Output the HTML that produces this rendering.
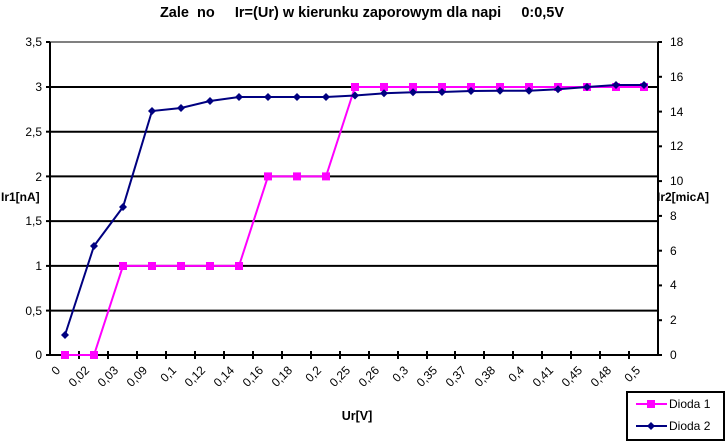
<!DOCTYPE html>
<html><head><meta charset="utf-8"><style>
html,body{margin:0;padding:0;background:#fff;}
svg{display:block;font-family:"Liberation Sans",Arial,sans-serif;}
</style></head><body>
<svg width="725" height="442" viewBox="0 0 725 442" xmlns="http://www.w3.org/2000/svg">
<rect width="725" height="442" fill="#fff"/>
<text x="362" y="17" font-size="14.5" font-weight="bold" text-anchor="middle" xml:space="preserve">Zale  no     Ir=(Ur) w kierunku zaporowym dla napi     0:0,5V</text>
<g stroke="#000" stroke-width="2">
<line x1="50" y1="87" x2="658" y2="87"/>
<line x1="50" y1="131.7" x2="658" y2="131.7"/>
<line x1="50" y1="176.4" x2="658" y2="176.4"/>
<line x1="50" y1="221.1" x2="658" y2="221.1"/>
<line x1="50" y1="265.9" x2="658" y2="265.9"/>
<line x1="50" y1="310.6" x2="658" y2="310.6"/>
</g>
<line x1="50" y1="42" x2="658" y2="42" stroke="#808080" stroke-width="2"/>
<g stroke="#000" stroke-width="2">
<line x1="50" y1="42" x2="50" y2="355"/>
<line x1="658" y1="42" x2="658" y2="355"/>
<line x1="46" y1="355" x2="662" y2="355"/>
</g>
<g stroke="#000" stroke-width="2">
<line x1="46" y1="42" x2="50" y2="42"/><line x1="46" y1="87" x2="50" y2="87"/><line x1="46" y1="131.7" x2="50" y2="131.7"/><line x1="46" y1="176.4" x2="50" y2="176.4"/><line x1="46" y1="221.1" x2="50" y2="221.1"/><line x1="46" y1="265.9" x2="50" y2="265.9"/><line x1="46" y1="310.6" x2="50" y2="310.6"/>
<line x1="658" y1="42" x2="662" y2="42"/><line x1="658" y1="76.8" x2="662" y2="76.8"/><line x1="658" y1="111.6" x2="662" y2="111.6"/><line x1="658" y1="146.3" x2="662" y2="146.3"/><line x1="658" y1="181.1" x2="662" y2="181.1"/><line x1="658" y1="215.9" x2="662" y2="215.9"/><line x1="658" y1="250.7" x2="662" y2="250.7"/><line x1="658" y1="285.4" x2="662" y2="285.4"/><line x1="658" y1="320.2" x2="662" y2="320.2"/>
</g>
<g stroke="#000" stroke-width="2">
<line x1="79" y1="351" x2="79" y2="359"/><line x1="108" y1="351" x2="108" y2="359"/><line x1="137" y1="351" x2="137" y2="359"/><line x1="166" y1="351" x2="166" y2="359"/><line x1="195" y1="351" x2="195" y2="359"/><line x1="224" y1="351" x2="224" y2="359"/><line x1="253" y1="351" x2="253" y2="359"/><line x1="282" y1="351" x2="282" y2="359"/><line x1="311" y1="351" x2="311" y2="359"/><line x1="340" y1="351" x2="340" y2="359"/><line x1="369" y1="351" x2="369" y2="359"/><line x1="398" y1="351" x2="398" y2="359"/><line x1="427" y1="351" x2="427" y2="359"/><line x1="455" y1="351" x2="455" y2="359"/><line x1="484" y1="351" x2="484" y2="359"/><line x1="513" y1="351" x2="513" y2="359"/><line x1="542" y1="351" x2="542" y2="359"/><line x1="571" y1="351" x2="571" y2="359"/><line x1="600" y1="351" x2="600" y2="359"/><line x1="629" y1="351" x2="629" y2="359"/>
</g>
<g font-size="12" text-anchor="end">
<text x="42" y="46">3,5</text><text x="42" y="91">3</text><text x="42" y="136">2,5</text><text x="42" y="181">2</text><text x="42" y="225">1,5</text><text x="42" y="270">1</text><text x="42" y="315">0,5</text><text x="42" y="359">0</text>
</g>
<g font-size="12">
<text x="670" y="46">18</text><text x="670" y="81">16</text><text x="670" y="116">14</text><text x="670" y="150">12</text><text x="670" y="185">10</text><text x="670" y="220">8</text><text x="670" y="255">6</text><text x="670" y="289">4</text><text x="670" y="324">2</text><text x="670" y="359">0</text>
</g>
<text x="1" y="201" font-size="12" font-weight="bold">Ir1[nA]</text>
<text x="657" y="201" font-size="12" font-weight="bold">Ir2[micA]</text>
<text x="357" y="420" font-size="12.5" font-weight="bold" text-anchor="middle">Ur[V]</text>
<g font-size="12" text-anchor="end">
<text transform="translate(61,371) rotate(-45)">0</text>
<text transform="translate(90,371) rotate(-45)">0,02</text>
<text transform="translate(119,371) rotate(-45)">0,03</text>
<text transform="translate(148,371) rotate(-45)">0,09</text>
<text transform="translate(177,371) rotate(-45)">0,1</text>
<text transform="translate(206,371) rotate(-45)">0,12</text>
<text transform="translate(235,371) rotate(-45)">0,14</text>
<text transform="translate(264,371) rotate(-45)">0,16</text>
<text transform="translate(293,371) rotate(-45)">0,18</text>
<text transform="translate(322,371) rotate(-45)">0,2</text>
<text transform="translate(351,371) rotate(-45)">0,25</text>
<text transform="translate(380,371) rotate(-45)">0,26</text>
<text transform="translate(409,371) rotate(-45)">0,3</text>
<text transform="translate(438,371) rotate(-45)">0,35</text>
<text transform="translate(467,371) rotate(-45)">0,37</text>
<text transform="translate(496,371) rotate(-45)">0,38</text>
<text transform="translate(525,371) rotate(-45)">0,4</text>
<text transform="translate(554,371) rotate(-45)">0,41</text>
<text transform="translate(583,371) rotate(-45)">0,45</text>
<text transform="translate(612,371) rotate(-45)">0,48</text>
<text transform="translate(641,371) rotate(-45)">0,5</text>
</g>
<polyline fill="none" stroke="#ff00ff" stroke-width="2" points="65,355 94,355 123,265.9 152,265.9 181,265.9 210,265.9 239,265.9 268,176.4 297,176.4 326,176.4 355,87 384,87 413,87 442,87 471,87 500,87 529,87 558,87 587,87 616,87 644,87"/>
<g fill="#ff00ff">
<rect x="61" y="351" width="8" height="8"/><rect x="90" y="351" width="8" height="8"/><rect x="119" y="262" width="8" height="8"/><rect x="148" y="262" width="8" height="8"/><rect x="177" y="262" width="8" height="8"/><rect x="206" y="262" width="8" height="8"/><rect x="235" y="262" width="8" height="8"/><rect x="264" y="172.4" width="8" height="8"/><rect x="293" y="172.4" width="8" height="8"/><rect x="322" y="172.4" width="8" height="8"/><rect x="351" y="83" width="8" height="8"/><rect x="380" y="83" width="8" height="8"/><rect x="409" y="83" width="8" height="8"/><rect x="438" y="83" width="8" height="8"/><rect x="467" y="83" width="8" height="8"/><rect x="496" y="83" width="8" height="8"/><rect x="525" y="83" width="8" height="8"/><rect x="554" y="83" width="8" height="8"/><rect x="583" y="83" width="8" height="8"/><rect x="612" y="83" width="8" height="8"/><rect x="640" y="83" width="8" height="8"/>
</g>
<polyline fill="none" stroke="#000080" stroke-width="2" points="65,335 94,246 123,207 152,111 181,108 210,101 239,97 268,97 297,97 326,97 355,95.5 384,93.3 413,92.3 442,92 471,91 500,90.7 529,90.7 558,89.3 587,87 616,85 644,85"/>
<g fill="#000080">
<path d="M65,331l4,4l-4,4l-4,-4z M94,242l4,4l-4,4l-4,-4z M123,203l4,4l-4,4l-4,-4z M152,107l4,4l-4,4l-4,-4z M181,104l4,4l-4,4l-4,-4z M210,97l4,4l-4,4l-4,-4z M239,93l4,4l-4,4l-4,-4z M268,93l4,4l-4,4l-4,-4z M297,93l4,4l-4,4l-4,-4z M326,93l4,4l-4,4l-4,-4z M355,91.5l4,4l-4,4l-4,-4z M384,89.3l4,4l-4,4l-4,-4z M413,88.3l4,4l-4,4l-4,-4z M442,88l4,4l-4,4l-4,-4z M471,87l4,4l-4,4l-4,-4z M500,86.7l4,4l-4,4l-4,-4z M529,86.7l4,4l-4,4l-4,-4z M558,85.3l4,4l-4,4l-4,-4z M587,83l4,4l-4,4l-4,-4z M616,81l4,4l-4,4l-4,-4z M644,81l4,4l-4,4l-4,-4z"/>
</g>
<rect x="627" y="392" width="97" height="48" fill="#fff" stroke="#000" stroke-width="2"/>
<line x1="636" y1="404" x2="667" y2="404" stroke="#ff00ff" stroke-width="2"/>
<rect x="647" y="400" width="8" height="8" fill="#ff00ff"/>
<text x="669" y="408" font-size="12">Dioda 1</text>
<line x1="636" y1="426" x2="667" y2="426" stroke="#000080" stroke-width="2"/>
<path d="M651,422l4,4l-4,4l-4,-4z" fill="#000080"/>
<text x="669" y="430" font-size="12">Dioda 2</text>
</svg>
</body></html>
